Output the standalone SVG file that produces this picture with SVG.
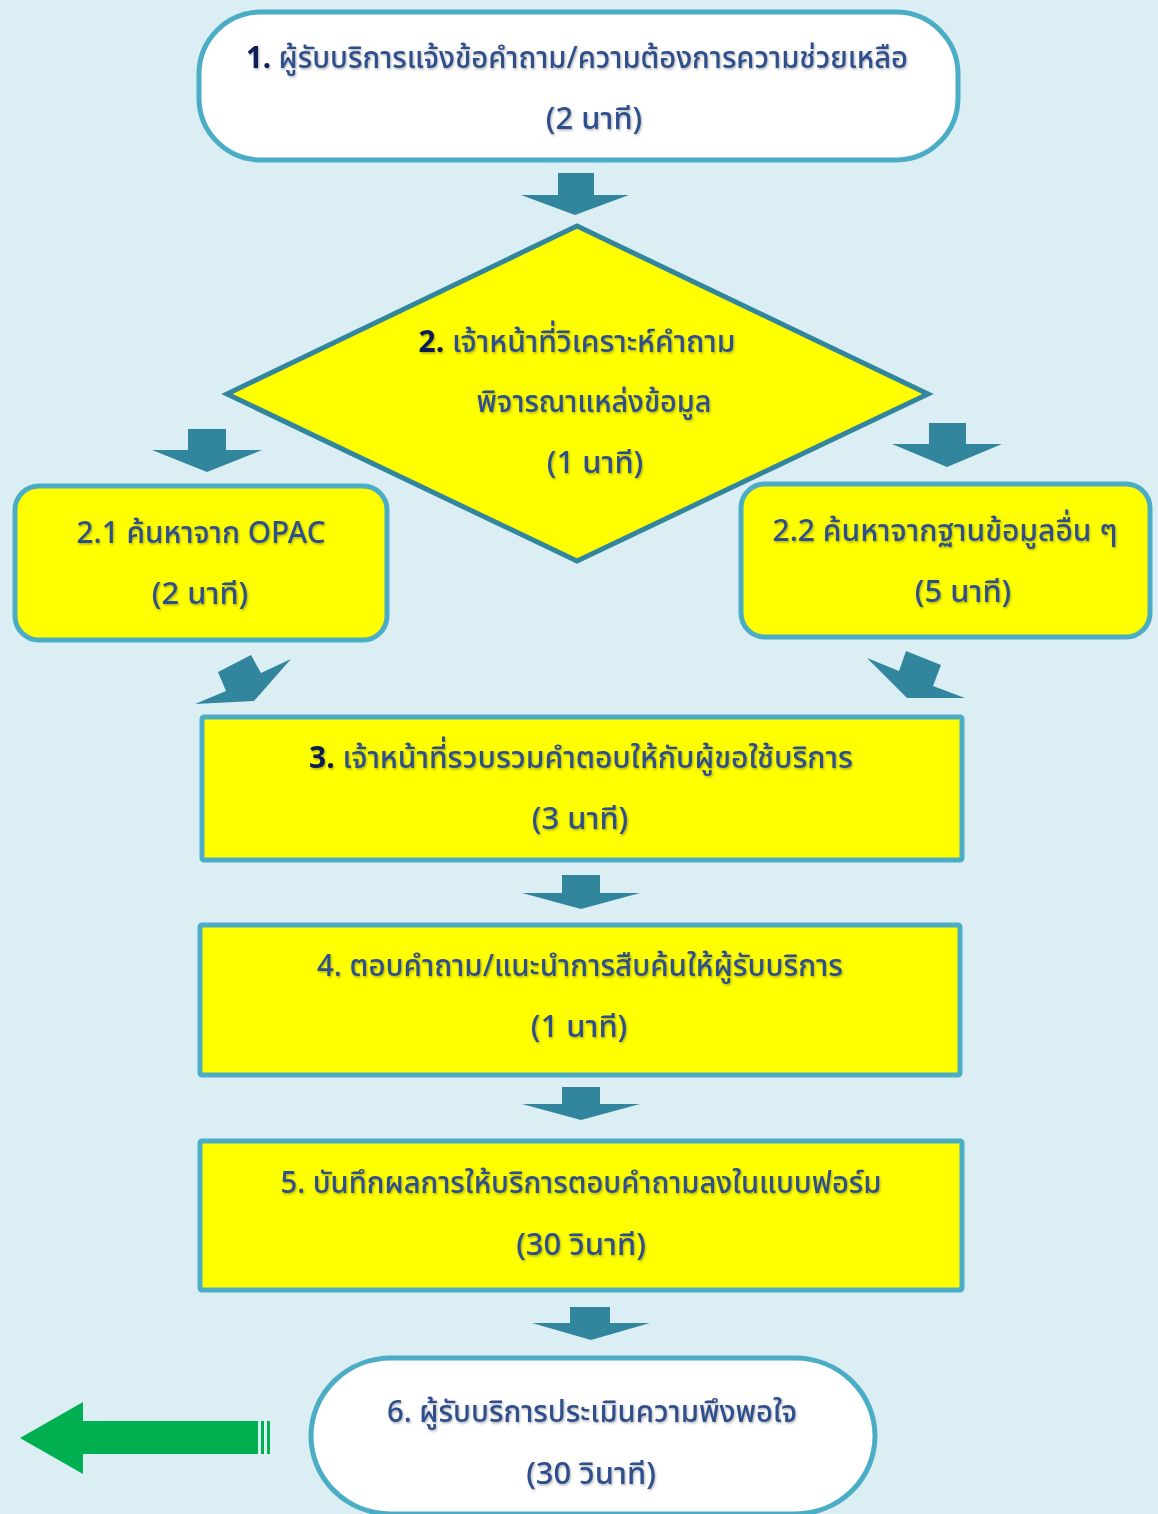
<svg xmlns="http://www.w3.org/2000/svg" width="1158" height="1514" viewBox="0 0 1158 1514">
<defs>
<filter id="sh" x="-5%" y="-20%" width="110%" height="140%">
<feDropShadow dx="1" dy="1.5" stdDeviation="1.2" flood-color="#000" flood-opacity="0.3"/>
</filter>
</defs>
<style>
.bg{fill:#dbeef4}
.box{stroke:#4bacc6;stroke-width:5}
.white{fill:#ffffff}
.yel{fill:#ffff00}
.arr{fill:#31859c}
.t{font-family:"Noto Sans Thai","Noto Sans","DejaVu Sans",sans-serif;font-size:31px;font-weight:500;fill:#2e4f8c;text-anchor:middle;filter:url(#sh)}
.n{fill:#0c1c56;font-weight:bold}
</style>
<rect class="bg" x="0" y="0" width="1158" height="1514"/>

<g id="connectors">
<polygon class="arr" points="558,173 594,173 594,195 629,195 575,215 521,195 558,195"/>
<polygon class="arr" points="188,429 226,429 226,450 262,450 207,472 152,450 188,450"/>
<polygon class="arr" points="929,423 966,423 966,444 1002,444 947,467 892,444 929,444"/>
<polygon class="arr" points="218,672 251,655 261,673 291,659 254,701 195,704 226,691"/>
<polygon class="arr" points="906,651 941,665 933,686 965,698 907,698 867,658 899,671"/>
<polygon class="arr" points="562,875 600,875 600,893 640,893 581,909 522,893 562,893"/>
<polygon class="arr" points="562,1087 600,1087 600,1104 640,1104 581,1120 522,1104 562,1104"/>
<polygon class="arr" points="570,1307 610,1307 610,1323 650,1323 591,1340 532,1323 570,1323"/>
</g>

<g id="node1">
<rect class="box white" x="199" y="12" width="759" height="148" rx="62" ry="62"/>
<text class="t" x="577" y="68" textLength="662" lengthAdjust="spacingAndGlyphs"><tspan class="n">1.</tspan> ผู้รับบริการแจ้งข้อคำถาม/ความต้องการความช่วยเหลือ</text>
<text class="t" x="594" y="129">(2 นาที)</text>
</g>

<g id="node2">
<polygon points="577,226 928,394 577,561 227,394" fill="#ffff00" stroke="#31859c" stroke-width="5" stroke-linejoin="miter"/>
<text class="t" x="577" y="352" textLength="317" lengthAdjust="spacingAndGlyphs"><tspan class="n">2.</tspan> เจ้าหน้าที่วิเคราะห์คำถาม</text>
<text class="t" x="594" y="412" textLength="235" lengthAdjust="spacingAndGlyphs">พิจารณาแหล่งข้อมูล</text>
<text class="t" x="595" y="473">(1 นาที)</text>
</g>

<g id="node2_1">
<rect class="box yel" x="15" y="486" width="372" height="154" rx="24" ry="24"/>
<text class="t" x="201" y="543" textLength="249" lengthAdjust="spacingAndGlyphs">2.1 ค้นหาจาก OPAC</text>
<text class="t" x="200" y="604">(2 นาที)</text>
</g>

<g id="node2_2">
<rect class="box yel" x="741" y="484" width="409" height="153" rx="24" ry="24"/>
<text class="t" x="945" y="541" textLength="345" lengthAdjust="spacingAndGlyphs">2.2 ค้นหาจากฐานข้อมูลอื่น ๆ</text>
<text class="t" x="963" y="602">(5 นาที)</text>
</g>

<g id="node3">
<rect class="box yel" x="202" y="717" width="760" height="143" rx="2"/>
<text class="t" x="581" y="768" textLength="544" lengthAdjust="spacingAndGlyphs"><tspan class="n">3.</tspan> เจ้าหน้าที่รวบรวมคำตอบให้กับผู้ขอใช้บริการ</text>
<text class="t" x="580" y="829">(3 นาที)</text>
</g>

<g id="node4">
<rect class="box yel" x="200" y="925" width="760" height="150" rx="2"/>
<text class="t" x="580" y="976" textLength="526" lengthAdjust="spacingAndGlyphs">4. ตอบคำถาม/แนะนำการสืบค้นให้ผู้รับบริการ</text>
<text class="t" x="579" y="1037">(1 นาที)</text>
</g>

<g id="node5">
<rect class="box yel" x="200" y="1141" width="762" height="149" rx="2"/>
<text class="t" x="581" y="1193" textLength="601" lengthAdjust="spacingAndGlyphs">5. บันทึกผลการให้บริการตอบคำถามลงในแบบฟอร์ม</text>
<text class="t" x="581" y="1255">(30 วินาที)</text>
</g>

<g id="node6">
<rect class="box white" x="311" y="1358" width="564" height="156" rx="80" ry="80"/>
<text class="t" x="592" y="1422" textLength="410" lengthAdjust="spacingAndGlyphs">6. ผู้รับบริการประเมินความพึงพอใจ</text>
<text class="t" x="591" y="1484">(30 วินาที)</text>
</g>

<g id="green_arrow">
<polygon points="20,1438 83,1402 83,1421 258,1421 258,1454 83,1454 83,1474" fill="#00b050"/>
<rect x="261" y="1421" width="3" height="33" fill="#00b050"/>
<rect x="267" y="1421" width="3" height="33" fill="#00b050"/>
</g>
</svg>
